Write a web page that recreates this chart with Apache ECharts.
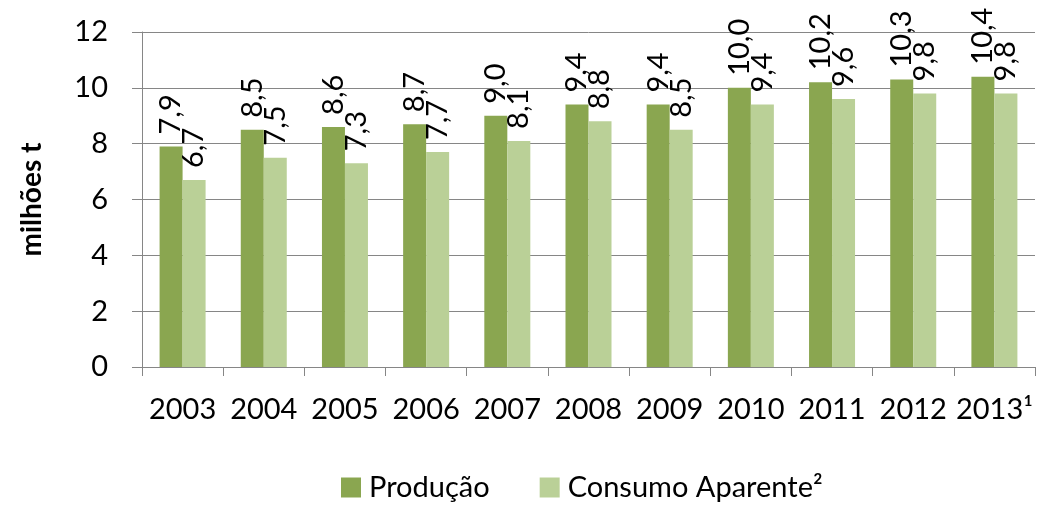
<!DOCTYPE html>
<html><head><meta charset="utf-8">
<script src="https://cdn.jsdelivr.net/npm/echarts@6/dist/echarts.min.js"></script>
<style>html,body{margin:0;padding:0;background:#fff}#c{width:1045px;height:506px}</style>
</head><body><div id="c"></div>
<script>
const categories = ['2003','2004','2005','2006','2007','2008','2009','2010','2011','2012','2013¹'];
const producao = [7.9, 8.5, 8.6, 8.7, 9.0, 9.4, 9.4, 10.0, 10.2, 10.3, 10.4];
const consumo = [6.7, 7.5, 7.3, 7.7, 8.1, 8.8, 8.5, 9.4, 9.6, 9.8, 9.8];
const seriesNames = ['Produção', 'Consumo Aparente²'];
const FONT = 'Lato, "Open Sans", sans-serif';
const chart = echarts.init(document.getElementById('c'));
const lbl = {
  show: true, position: 'top', rotate: 90, align: 'left', verticalAlign: 'middle',
  distance: 12, fontSize: 29, fontFamily: FONT, color: '#000',
  formatter: p => p.value.toFixed(1).replace('.', ',')
};
chart.setOption({
  animation: false,
  grid: { left: 142, right: 10, top: 32, bottom: 139 },
  legend: {
    bottom: -1, left: 336, itemWidth: 20, itemHeight: 20, itemGap: 50,
    icon: 'rect',
    textStyle: { fontSize: 29, fontFamily: FONT, color: '#000', padding: [0, 0, 0, 3] },
    data: seriesNames
  },
  xAxis: {
    type: 'category', data: categories,
    axisLine: { lineStyle: { color: '#868686', width: 1 } },
    axisTick: { show: true, length: 9, interval: 0, lineStyle: { color: '#868686' } },
    axisLabel: { fontSize: 29, fontFamily: FONT, color: '#000', margin: 28, interval: 0 }
  },
  yAxis: {
    type: 'value', min: 0, max: 12, interval: 2,
    name: 'milhões t', nameLocation: 'middle', nameGap: 96, nameRotate: 90,
    nameTextStyle: { fontSize: 28, fontWeight: 'bold', fontFamily: FONT, color: '#000' },
    axisLine: { show: true, lineStyle: { color: '#868686' } },
    axisTick: { show: true, length: 10, lineStyle: { color: '#868686' } },
    splitLine: { show: true, lineStyle: { color: '#868686', width: 1 } },
    axisLabel: { fontSize: 29, fontFamily: FONT, color: '#000', margin: 34 }
  },
  series: [
    { name: seriesNames[0], type: 'bar', data: producao, barWidth: 23, barGap: '0%',
      itemStyle: { color: '#8aa650' }, label: lbl },
    { name: seriesNames[1], type: 'bar', data: consumo, barWidth: 23,
      itemStyle: { color: '#bad097' }, label: lbl }
  ]
});
</script></body></html>
